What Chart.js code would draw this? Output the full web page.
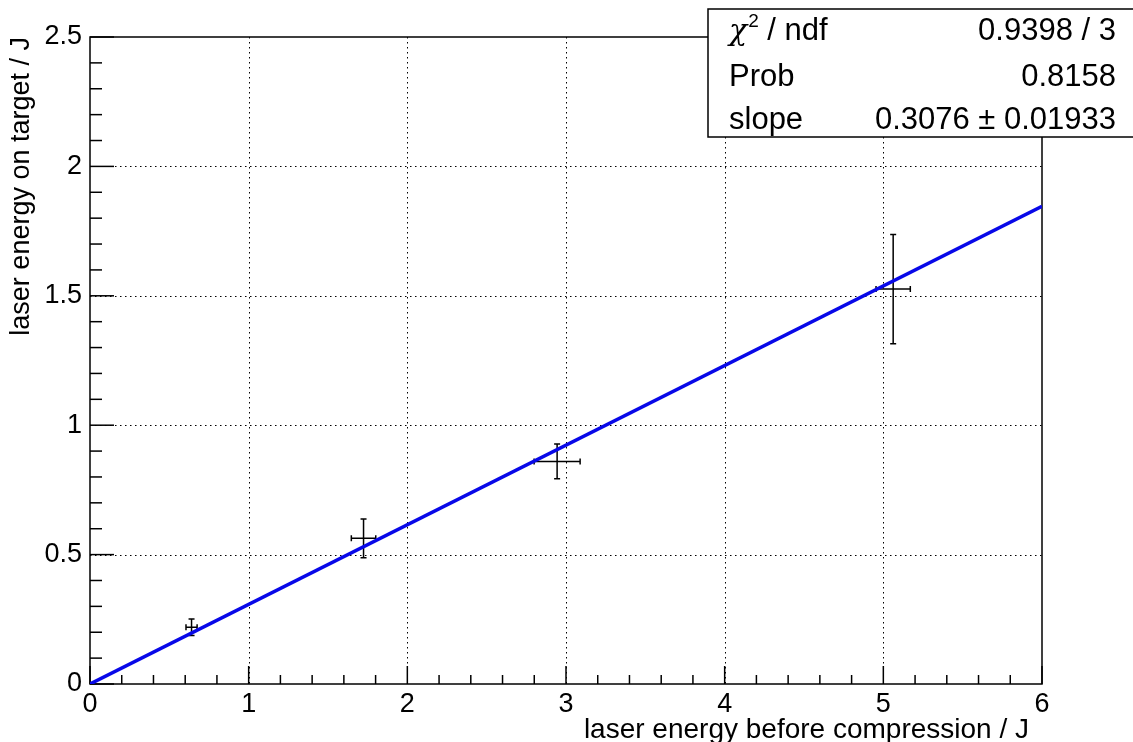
<!DOCTYPE html>
<html>
<head>
<meta charset="utf-8">
<script src="https://cdn.jsdelivr.net/npm/chart.js@4.4.1/dist/chart.umd.min.js"></script>
<style>
  html, body { margin: 0; padding: 0; background: #fff; }
  #myChart { display: block; }
</style>
</head>
<body>
<canvas id="myChart" width="1133" height="742"></canvas>
<script>
// measured points (energy before compression / on target, with errors)
const xVals = [0.64, 1.724, 2.944, 5.062];
const yVals = [0.219, 0.563, 0.860, 1.526];
const xErrs = [0.035, 0.077, 0.145, 0.108];
const yErrs = [0.032, 0.075, 0.067, 0.211];

// fitted line through origin, slope 0.3076
const fitX = [0, 6];
const fitY = [0, 1.8456];

const xTicks = [0, 1, 2, 3, 4, 5, 6];
const yTicks = [0, 0.5, 1, 1.5, 2, 2.5];

const statRows = [
  ['chi2', '0.9398 / 3'],
  ['Prob', '0.8158'],
  ['slope', '0.3076 ± 0.01933']
];

const FONT = '"Liberation Sans", Arial, sans-serif';

const points = xVals.map((x, i) => ({ x: x, y: yVals[i] }));
const fitPoints = fitX.map((x, i) => ({ x: x, y: fitY[i] }));

// grid, frame, ticks and error bars (drawn under the fit line)
const rootStyle = {
  id: 'rootStyle',
  beforeDatasetsDraw(chart) {
    const c = chart.ctx;
    const a = chart.chartArea;
    const sx = chart.scales.x, sy = chart.scales.y;
    c.save();

    // dotted grid
    c.strokeStyle = '#000';
    c.lineWidth = 1;
    c.setLineDash([1.5, 3.5]);
    xTicks.slice(1, -1).forEach(v => {
      const px = Math.round(sx.getPixelForValue(v)) + 0.5;
      c.beginPath(); c.moveTo(px, a.top); c.lineTo(px, a.bottom); c.stroke();
    });
    yTicks.slice(1, -1).forEach(v => {
      const py = Math.round(sy.getPixelForValue(v)) + 0.5;
      c.beginPath(); c.moveTo(a.left, py); c.lineTo(a.right, py); c.stroke();
    });
    c.setLineDash([]);

    // ticks (inward), 4 minor per major
    c.lineWidth = 1.5;
    for (let v = 0; v <= 6.0001; v += 0.2) {
      const major = Math.abs(v - Math.round(v)) < 1e-6;
      const px = sx.getPixelForValue(v);
      c.beginPath(); c.moveTo(px, a.bottom); c.lineTo(px, a.bottom - (major ? 18 : 9)); c.stroke();
    }
    for (let v = 0; v <= 2.5001; v += 0.1) {
      const major = Math.abs(v * 2 - Math.round(v * 2)) < 1e-6;
      const py = sy.getPixelForValue(v);
      c.beginPath(); c.moveTo(a.left, py); c.lineTo(a.left + (major ? 24 : 12), py); c.stroke();
    }

    // frame
    c.strokeRect(a.left, a.top, a.right - a.left, a.bottom - a.top);

    // error bars
    const cap = 3;
    points.forEach((p, i) => {
      const px = sx.getPixelForValue(p.x), py = sy.getPixelForValue(p.y);
      const x1 = sx.getPixelForValue(p.x - xErrs[i]), x2 = sx.getPixelForValue(p.x + xErrs[i]);
      const y1 = sy.getPixelForValue(p.y - yErrs[i]), y2 = sy.getPixelForValue(p.y + yErrs[i]);
      c.beginPath();
      c.moveTo(x1, py); c.lineTo(x2, py);
      c.moveTo(px, y1); c.lineTo(px, y2);
      c.moveTo(x1, py - cap); c.lineTo(x1, py + cap);
      c.moveTo(x2, py - cap); c.lineTo(x2, py + cap);
      c.moveTo(px - cap, y1); c.lineTo(px + cap, y1);
      c.moveTo(px - cap, y2); c.lineTo(px + cap, y2);
      c.stroke();
    });
    c.restore();
  },
  afterDraw(chart) {
    const c = chart.ctx;
    const a = chart.chartArea;
    c.save();
    // axis titles
    c.fillStyle = '#000';
    c.font = '28px ' + FONT;
    c.textAlign = 'right';
    c.textBaseline = 'alphabetic';
    c.fillText('laser energy before compression / J', 1029, 738);
    c.font = '27px ' + FONT;
    c.translate(29, a.top);
    c.rotate(-Math.PI / 2);
    c.fillText('laser energy on target / J', 0, 0);
    c.restore();

    // stats box
    c.save();
    c.fillStyle = '#fff';
    c.fillRect(708, 9, 440, 128);
    c.strokeStyle = '#000';
    c.lineWidth = 1.5;
    c.strokeRect(708, 9, 440, 128);
    c.fillStyle = '#000';
    c.textBaseline = 'alphabetic';
    const rowBase = [40, 86, 129];
    statRows.forEach((r, i) => {
      c.font = '31px ' + FONT;
      c.textAlign = 'left';
      if (r[0] === 'chi2') {
        c.font = 'italic 30px "DejaVu Serif", serif';
        c.fillText('χ', 729, rowBase[i]);
        let w = c.measureText('χ').width;
        c.font = '19px ' + FONT;
        c.fillText('2', 729 + w + 1, rowBase[i] - 13);
        w += c.measureText('2').width + 1;
        c.font = '31px ' + FONT;
        c.fillText(' / ndf', 729 + w, rowBase[i]);
      } else {
        c.fillText(r[0], 729, rowBase[i]);
      }
      c.textAlign = 'right';
      c.fillText(r[1], 1116, rowBase[i]);
    });
    c.restore();
  }
};

const ctx = document.getElementById('myChart');

new Chart(ctx, {
  type: 'scatter',
  data: {
    datasets: [{
      label: 'fit',
      data: fitPoints,
      showLine: true,
      borderColor: '#0808e8',
      borderWidth: 3.5,
      pointRadius: 0,
      fill: false
    }, {
      label: 'data',
      data: points,
      pointRadius: 0,
      showLine: false
    }]
  },
  options: {
    responsive: false,
    animation: false,
    devicePixelRatio: 1,
    layout: { padding: { top: 37, right: 91, left: 0, bottom: 0 } },
    plugins: { legend: { display: false }, tooltip: { enabled: false } },
    scales: {
      x: {
        type: 'linear',
        min: 0,
        max: 6,
        afterBuildTicks: s => { s.ticks = xTicks.map(v => ({ value: v })); },
        afterFit: s => { s.height = 58; },
        grid: { display: false },
        border: { display: false },
        ticks: {
          color: '#000', font: { family: FONT, size: 27 }, padding: -4,
          maxRotation: 0, autoSkip: false, callback: v => String(v)
        }
      },
      y: {
        type: 'linear',
        min: 0,
        max: 2.5,
        afterBuildTicks: s => { s.ticks = yTicks.map(v => ({ value: v })); },
        afterFit: s => { s.width = 90; },
        grid: { display: false },
        border: { display: false },
        ticks: {
          color: '#000', font: { family: FONT, size: 27 }, padding: 0,
          autoSkip: false, callback: v => String(v)
        }
      }
    }
  },
  plugins: [rootStyle]
});
</script>
</body>
</html>
